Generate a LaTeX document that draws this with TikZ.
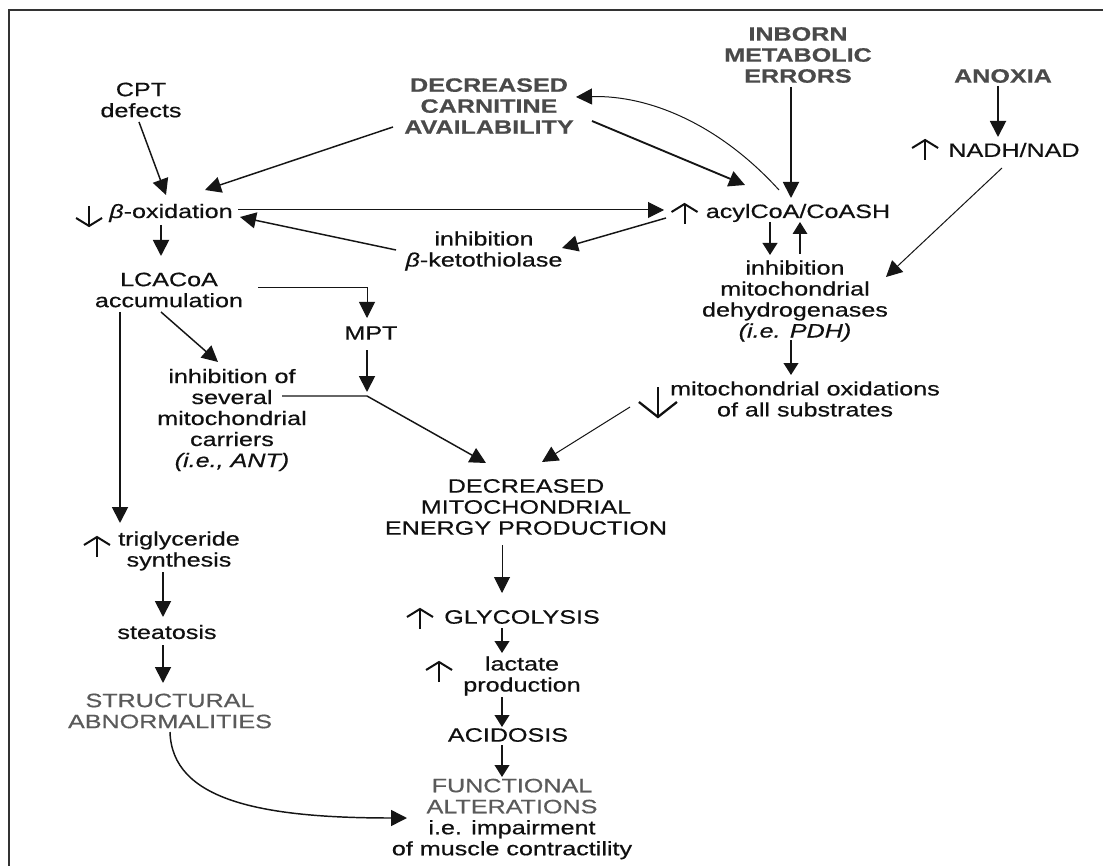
\documentclass[tikz,border=0pt]{standalone}
\usepackage{fontspec}
\setmainfont{Liberation Sans}[FakeStretch=1.3,FakeBold=0.5]
\usetikzlibrary{arrows.meta,calc}
\definecolor{txt}{HTML}{101010}
\definecolor{hd}{HTML}{4A4A4A}
\definecolor{gr}{HTML}{5A5A5A}
\definecolor{ln}{HTML}{151515}
\definecolor{frame}{HTML}{333333}
\newcommand{\fsz}{\fontsize{14.5}{15.75}\selectfont}
\tikzset{
  glyph/.style={draw=txt,line width=1.5pt,line join=miter},
  uparr/.pic={\draw[glyph] (0,10)--(0,-10); \draw[glyph] (-13,-2)--(0,-10)--(13,-2);},
  downarr/.pic={\draw[glyph] (0,-10)--(0,10); \draw[glyph] (-13,2)--(0,10)--(13,2);},
  bigdownarr/.pic={\draw[glyph,line width=1.7pt] (0,-15)--(0,15); \draw[glyph,line width=1.7pt] (-19,0)--(0,15)--(19,0);},
  lbl/.style={inner sep=0pt,align=center,text=txt,font=\fsz},
  hdl/.style={lbl,text=hd,font=\fsz\bfseries},
  grl/.style={lbl,text=gr},
  con/.style={draw=ln,line width=1.4pt,-{Triangle[length=12pt,width=12pt]}},
  conm/.style={con,line width=1.1pt},
  cont/.style={con,line width=0.75pt},
  cons/.style={con,-{Triangle[length=9pt,width=11pt]}}
}
\begin{document}
\begin{tikzpicture}[x=0.75pt,y=-0.75pt]
\useasboundingbox (0,0) rectangle (1103,866);
\fill[white] (0,0) rectangle (1103,866);
\draw[draw=frame,line width=1.2pt] (9,866) -- (9,10) -- (1103,10);

% nodes
\node[lbl] (cpt) at (141,100) {CPT\\defects};
\node[hdl] (dca) at (489,106) {DECREASED\\CARNITINE\\AVAILABILITY};
\node[hdl] (ime) at (798,55) {INBORN\\METABOLIC\\ERRORS};
\node[hdl] (anox) at (1003,76) {ANOXIA};
\node[lbl] (nadh) at (1014,150) {NADH/NAD};
\node[lbl] (box) at (171,213) {\textit{β}-oxidation};
\node[lbl] (acyl) at (798,213) {acylCoA/CoASH};
\node[lbl] (keto) at (484,251) {inhibition\\\textit{β}-ketothiolase};
\node[lbl] (imd) at (795,301) {inhibition\\mitochondrial\\dehydrogenases\\\textit{(i.e. PDH)}};
\node[lbl] (mox) at (805,399) {mitochondrial oxidations\\of all substrates};
\node[lbl] (lca) at (169,290) {LCACoA\\accumulation};
\node[lbl] (mpt) at (371,333) {MPT};
\node[lbl] (ioc) at (232,420) {inhibition of\\several\\mitochondrial\\carriers\\\textit{(i.e., ANT)}};
\node[lbl] (dmep) at (526,507) {DECREASED\\MITOCHONDRIAL\\ENERGY PRODUCTION};
\node[lbl] (tri) at (179,551) {triglyceride\\synthesis};
\node[lbl] (ste) at (167,632) {steatosis};
\node[grl] (sa) at (170,711) {STRUCTURAL\\ABNORMALITIES};
\node[lbl] (gly) at (522,617) {GLYCOLYSIS};
\node[lbl] (lac) at (522,676) {lactate\\production};
\node[lbl] (aci) at (508,735) {ACIDOSIS};
\node[lbl] (fa) at (512,819) {\textcolor{gr}{FUNCTIONAL}\\\textcolor{gr}{ALTERATIONS}\\i.e. impairment\\of muscle contractility};
\coordinate (j) at (367,396);

% glyph arrows
\pic at ($(box.west)+(-20,3)$) {downarr};
\pic at ($(acyl.west)+(-21,1)$) {uparr};
\pic at ($(nadh.west)+(-23,0)$) {uparr};
\pic at ($(mox.west)+(-12,3)$) {bigdownarr};
\pic at ($(tri.west)+(-21,-4)$) {uparr};
\pic at ($(gly.west)+(-24,2)$) {uparr};
\pic at ($(lac.west)+(-24,-4)$) {uparr};

% connectors
\draw[conm] ($(cpt)+(-2,22)$) -- ($(box)+(-5,-18)$);
\draw[conm] ($(dca)+(-96,21)$) -- ($(box)+(34,-23)$);
\draw[con] ($(dca)+(103,15)$) -- ($(acyl)+(-53,-28)$);
\draw[cont] ($(acyl)+(-19,-23)$) .. controls ($(acyl)+(-78,-88)$) and ($(dca)+(161,-11)$) .. ($(dca)+(87,-9)$);
\draw[con] ($(ime)+(-7,32)$) -- ($(acyl)+(-7,-15)$);
\draw[con] ($(anox)+(-5,10)$) -- ($(nadh)+(-16,-13)$);
\draw[cont] ($(nadh)+(-12,18)$) -- ($(imd)+(91,-24)$);
\draw[cont] ($(box)+(67,-3)$) -- ($(acyl)+(-134,-3)$);
\draw[conm] ($(acyl)+(-132,5)$) -- ($(keto)+(78,-3)$);
\draw[conm] ($(keto)+(-88,-1)$) -- ($(box)+(69,4)$);
\draw[cons] ($(acyl)+(-28,9)$) -- ($(imd)+(-25,-46)$);
\draw[cons,line width=0.8pt] ($(imd)+(5,-47)$) -- ($(acyl)+(2,9)$);
\draw[cons] ($(imd)+(-4,39)$) -- ($(mox)+(-14,-24)$);
\draw[con] ($(box)+(-10,12)$) -- ($(lca)+(-8,-34)$);
\draw[cont] ($(lca)+(89,-2)$) -| ($(mpt)+(-4,-15)$);
\draw[conm] ($(lca)+(-8,22)$) -- ($(ioc)+(-14,-58)$);
\draw[con] ($(lca)+(-49,22)$) -- ($(tri)+(-59,-28)$);
\draw[con] ($(mpt)+(-4,17)$) -- ($(j)+(0,-4)$);
\draw[conm] ($(ioc)+(50,-24)$) -- (j) -- ($(dmep)+(-40,-44)$);
\draw[cont] ($(mox)+(-175,8)$) -- ($(dmep)+(16,-45)$);
\draw[cont] ($(dmep)+(-24,38)$) -- ($(gly)+(-20,-24)$);
\draw[cons] ($(gly)+(-20,11)$) -- ($(lac)+(-20,-23)$);
\draw[cons] ($(lac)+(-20,21)$) -- ($(aci)+(-6,-8)$);
\draw[cons] ($(aci)+(-6,10)$) -- ($(fa)+(-10,-42)$);
\draw[con] ($(tri)+(-16,21)$) -- ($(ste)+(-4,-15)$);
\draw[con] ($(ste)+(-4,13)$) -- ($(sa)+(-7,-28)$);
\draw[conm] ($(sa)+(0,21)$) .. controls ($(sa)+(2,89)$) and ($(fa)+(-252,-1)$) .. ($(fa)+(-105,-1)$);
\end{tikzpicture}
\end{document}
